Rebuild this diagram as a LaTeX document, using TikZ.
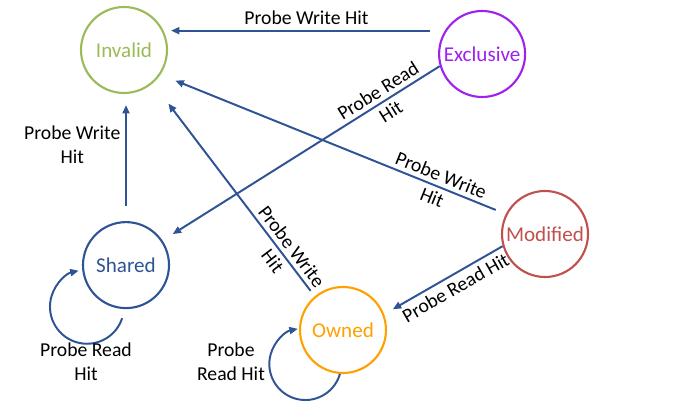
\documentclass[tikz,border=0pt]{standalone}
\usepackage{fontspec}
\setmainfont{Carlito}
\usetikzlibrary{arrows.meta, positioning}
\definecolor{invGreen}{HTML}{9BBB59}
\definecolor{excPurple}{RGB}{160,32,240}
\definecolor{modRed}{HTML}{C0504D}
\definecolor{ownOrange}{RGB}{255,160,0}
\definecolor{lineBlue}{HTML}{2F5496}

\begin{document}
\begin{tikzpicture}[node distance=2cm, >={Triangle[length=6pt, width=5pt]}, line width=1.4pt]
      \tikzstyle{stateNode} = [circle, draw, line width=1.5pt, minimum size=2.15cm, inner sep=0pt, font=\fontsize{15}{18}\selectfont]
      \tikzstyle{myArrow} = [->, draw=lineBlue, line width=1.4pt]
      \tikzstyle{edgeLabel} = [font=\fontsize{14}{17}\selectfont, align=center, text=black]

      \useasboundingbox (0,0) rectangle (17.35,-10.025);

      % Estados
      \node at (3.1,-1.25) [stateNode, draw=invGreen, text=invGreen] (invalid) {Invalid};
      \node [stateNode, draw=excPurple, text=excPurple, right=6.75cm of invalid, yshift=-0.1cm] (exclusive) {Exclusive};
      \node [stateNode, draw=lineBlue, text=lineBlue, below=3.175cm of invalid, xshift=0.05cm] (shared) {Shared};
      \node at (8.575,-8.25) [stateNode, draw=ownOrange, text=ownOrange] (owned) {Owned};
      \node at (13.625,-5.85) [stateNode, draw=modRed, text=modRed] (modified) {Modified};

      % Transiciones
      \draw [myArrow, shorten <=0.375cm, shorten >=0.075cm] (exclusive.148) -- (exclusive.148 -| invalid.east)
            node [midway, above, edgeLabel] {Probe Write Hit};
      \draw [myArrow, shorten <=0.375cm, shorten >=0.275cm] (shared.north) -- (shared.north |- invalid.south)
            node [pos=0.6, left, edgeLabel] {Probe Write\\Hit};
      \draw [myArrow, shorten >=0.3cm] (exclusive.196) -- (shared.34)
            node [pos=0.2, sloped, edgeLabel] {Probe Read\\Hit};
      \draw [myArrow, shorten <=0.27cm, shorten >=0.4cm] (modified.153) -- (invalid.-34)
            node [pos=0.2, sloped, edgeLabel] {Probe Write\\Hit};
      \draw [myArrow, shorten <=0.17cm, shorten >=0.64cm] (owned.130) -- (invalid.-49)
            node [pos=0.2, sloped, edgeLabel] {Probe Write\\Hit};
      \draw [myArrow, shorten >=0.25cm] (modified.196) -- (owned.21)
            node [pos=0.45, sloped, below, edgeLabel] {Probe Read Hit};

      % Lazos
      \draw [myArrow] ([yshift=-0.23cm]shared.265) arc [start angle=-18, end angle=-257, radius=0.925cm];
      \node [edgeLabel] at (2.15,-9.05) (sharedLoop) {Probe Read\\Hit};
      \draw [myArrow] (owned.266) arc [start angle=-16, end angle=-258, radius=0.9cm];
      \node [edgeLabel] at (5.775,-9.05) (ownedLoop) {Probe\\Read Hit};

    \end{tikzpicture}
\end{document}
